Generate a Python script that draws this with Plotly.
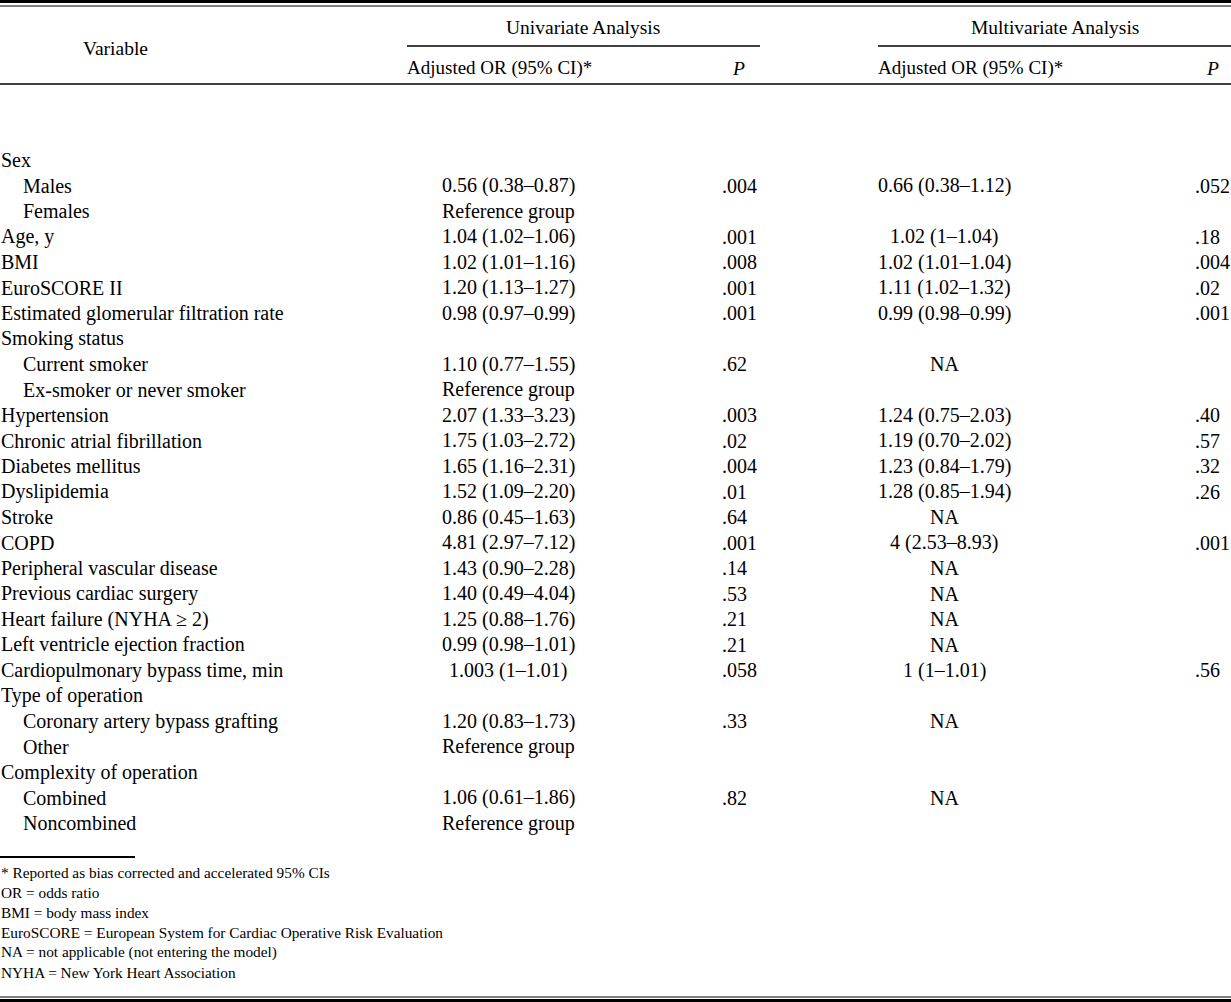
"""
Table: univariate and multivariate analysis (odds ratios), drawn with annotations.
"""
import plotly.graph_objects as go

# Table data
variables = [
    "Sex", "Males", "Females", "Age, y", "BMI", "EuroSCORE II",
    "Estimated glomerular filtration rate", "Smoking status", "Current smoker",
    "Ex-smoker or never smoker", "Hypertension", "Chronic atrial fibrillation",
    "Diabetes mellitus", "Dyslipidemia", "Stroke", "COPD",
    "Peripheral vascular disease", "Previous cardiac surgery",
    "Heart failure (NYHA ≥ 2)", "Left ventricle ejection fraction",
    "Cardiopulmonary bypass time, min", "Type of operation",
    "Coronary artery bypass grafting", "Other", "Complexity of operation",
    "Combined", "Noncombined",
]
indented = [
    False, True, True, False, False, False,
    False, False, True,
    True, False, False,
    False, False, False, False,
    False, False,
    False, False,
    False, False,
    True, True, False,
    True, True,
]
uni_or = [
    "", "0.56 (0.38–0.87)", "Reference group", "1.04 (1.02–1.06)", "1.02 (1.01–1.16)",
    "1.20 (1.13–1.27)", "0.98 (0.97–0.99)", "", "1.10 (0.77–1.55)", "Reference group",
    "2.07 (1.33–3.23)", "1.75 (1.03–2.72)", "1.65 (1.16–2.31)", "1.52 (1.09–2.20)",
    "0.86 (0.45–1.63)", "4.81 (2.97–7.12)", "1.43 (0.90–2.28)", "1.40 (0.49–4.04)",
    "1.25 (0.88–1.76)", "0.99 (0.98–1.01)", "1.003 (1–1.01)", "", "1.20 (0.83–1.73)",
    "Reference group", "", "1.06 (0.61–1.86)", "Reference group",
]
uni_p = [
    "", ".004", "", ".001", ".008", ".001", ".001", "", ".62", "",
    ".003", ".02", ".004", ".01", ".64", ".001", ".14", ".53",
    ".21", ".21", ".058", "", ".33", "", "", ".82", "",
]
multi_or = [
    "", "0.66 (0.38–1.12)", "", "1.02 (1–1.04)", "1.02 (1.01–1.04)",
    "1.11 (1.02–1.32)", "0.99 (0.98–0.99)", "", "NA", "",
    "1.24 (0.75–2.03)", "1.19 (0.70–2.02)", "1.23 (0.84–1.79)", "1.28 (0.85–1.94)",
    "NA", "4 (2.53–8.93)", "NA", "NA", "NA", "NA", "1 (1–1.01)", "", "NA",
    "", "", "NA", "",
]
multi_p = [
    "", ".052", "", ".18", ".004", ".02", ".001", "", "", "",
    ".40", ".57", ".32", ".26", "", ".001", "", "", "", "", ".56",
    "", "", "", "", "", "",
]
footnotes = [
    "* Reported as bias corrected and accelerated 95% CIs",
    "OR = odds ratio",
    "BMI = body mass index",
    "EuroSCORE = European System for Cardiac Operative Risk Evaluation",
    "NA = not applicable (not entering the model)",
    "NYHA = New York Heart Association",
]

W, H = 1231, 1002
FONT = "Liberation Serif, Times New Roman, serif"
FS = 20       # labels
FN = 20       # numeric cells
ROW0, ROWH = 160, 25.5

fig = go.Figure()
ann = []


def txt(x, y, s, anchor="left", size=FS):
    ann.append(dict(x=x, y=y, xref="x", yref="y", text=s, showarrow=False,
                    xanchor=anchor, yanchor="middle", borderpad=0,
                    font=dict(family=FONT, size=size, color="black")))


# Header
txt(115, 48, "Variable", "center", 19.5)
txt(583, 27, "Univariate Analysis", "center", 19.5)
txt(1055, 27, "Multivariate Analysis", "center", 19.5)
txt(406, 68, "Adjusted OR (95% CI)*", size=19)
txt(738, 68, "<i>P</i>", "center", 19.5)
txt(877, 68, "Adjusted OR (95% CI)*", size=19)
txt(1212, 68, "<i>P</i>", "center", 19.5)

# Body rows
for i, name in enumerate(variables):
    y = ROW0 + i * ROWH
    txt(22 if indented[i] else 0, y, name)
    if uni_or[i]:
        txt(508, y, uni_or[i], "center", FN)
    if uni_p[i]:
        txt(721, y, uni_p[i], size=FN)
    if multi_or[i]:
        txt(944, y, multi_or[i], "center", FN)
    if multi_p[i]:
        txt(1194, y, multi_p[i], size=FN)

# Footnotes
for j, note in enumerate(footnotes):
    txt(0, 872 + j * 20, note, size=15.3)

# Rules
lines = [
    (0, W, 1.5, 3), (0, W, 6, 1.2),
    (407, 760, 46, 1.3), (878, W, 46, 1.3),
    (0, W, 84, 1.5),
    (0, 135, 857, 2),
    (0, W, 997, 1.2), (0, W, 1000.5, 3),
]
shapes = [dict(type="line", xref="x", yref="y", x0=a, x1=b, y0=y, y1=y,
               line=dict(color="black", width=w)) for a, b, y, w in lines]

fig.update_layout(
    width=W, height=H,
    margin=dict(l=0, r=0, t=0, b=0),
    paper_bgcolor="white", plot_bgcolor="white",
    xaxis=dict(range=[0, W], visible=False, fixedrange=True),
    yaxis=dict(range=[H, 0], visible=False, fixedrange=True),
    annotations=ann, shapes=shapes,
    showlegend=False,
)

fig.write_html("out.html", config={"displayModeBar": False},
               post_script="document.body.style.margin='0';")
